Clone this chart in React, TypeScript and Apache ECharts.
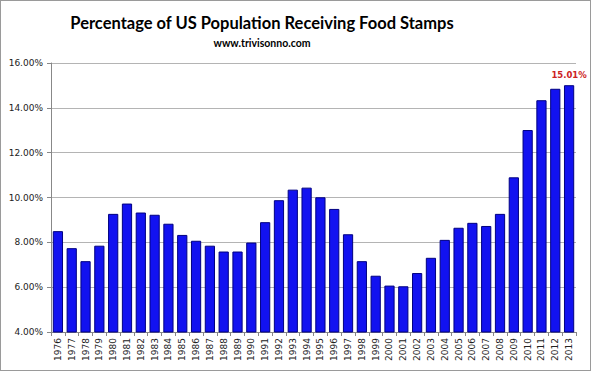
import React, { useEffect, useRef } from "react";
import * as echarts from "echarts";

const years = [
  "1976","1977","1978","1979","1980","1981","1982","1983","1984","1985",
  "1986","1987","1988","1989","1990","1991","1992","1993","1994","1995",
  "1996","1997","1998","1999","2000","2001","2002","2003","2004","2005",
  "2006","2007","2008","2009","2010","2011","2012","2013",
];
const pctValues = [
  8.50, 7.74, 7.16, 7.85, 9.27, 9.73, 9.33, 9.23, 8.83, 8.33,
  8.07, 7.85, 7.59, 7.59, 7.99, 8.90, 9.88, 10.35, 10.44, 10.01,
  9.49, 8.36, 7.16, 6.51, 6.07, 6.04, 6.63, 7.31, 8.11, 8.65,
  8.87, 8.73, 9.27, 10.90, 13.01, 14.34, 14.85, 15.01,
];
const yMin = 4;
const yMax = 16;
const yStep = 2;
const titleText = "Percentage of US Population Receiving Food Stamps";
const subtitleText = "www.trivisonno.com";

export default function App() {
  const ref = useRef<HTMLDivElement>(null);
  useEffect(() => {
    document.body.style.margin = "0";
    const chart = echarts.init(ref.current!, null, { renderer: "svg" });
    const last = pctValues.length - 1;
    chart.setOption({
      animation: false,
      backgroundColor: "#ffffff",
      title: [
        {
          text: titleText,
          left: 261,
          top: 13,
          padding: 0,
          textAlign: "center",
          textStyle: { fontFamily: "Lato", fontWeight: "bold", fontSize: 16.5, color: "#000" },
        },
        {
          text: subtitleText,
          left: 261,
          top: 36,
          padding: 0,
          textAlign: "center",
          textStyle: { fontFamily: "Lato", fontWeight: "bold", fontSize: 10.5, color: "#000" },
        },
      ],
      grid: { left: 50, right: 14, top: 62, bottom: 38, containLabel: false },
      xAxis: {
        type: "category",
        data: years,
        axisLine: { lineStyle: { color: "#888", width: 1 } },
        axisTick: { show: true, alignWithLabel: false, length: 4, lineStyle: { color: "#888" } },
        axisLabel: {
          rotate: 90,
          interval: 0,
          margin: 6,
          fontFamily: "DejaVu Sans",
          fontSize: 9,
          color: "#222",
        },
      },
      yAxis: {
        type: "value",
        min: yMin,
        max: yMax,
        interval: yStep,
        axisLine: { show: true, lineStyle: { color: "#888" } },
        axisTick: { show: true, length: 4, lineStyle: { color: "#888" } },
        splitLine: { lineStyle: { color: "#b4b4b4", width: 1 } },
        axisLabel: {
          formatter: (v: number) => v.toFixed(2) + "%",
          fontFamily: "DejaVu Sans",
          fontSize: 9,
          color: "#222",
          margin: 8,
        },
      },
      series: [
        {
          type: "bar",
          data: pctValues.map((v, i) =>
            i === last
              ? {
                  value: v,
                  label: {
                    show: true,
                    position: "top",
                    distance: 6,
                    formatter: (p: any) => p.value.toFixed(2) + "%",
                    color: "#cc2222",
                    fontWeight: "bold",
                    fontFamily: "DejaVu Sans",
                    fontSize: 8.5,
                  },
                }
              : v
          ),
          barCategoryGap: "26%",
          itemStyle: { color: "#1212f0", borderColor: "#000080", borderWidth: 1 },
        },
      ],
    });
    return () => chart.dispose();
  }, []);
  return (
    <div
      ref={ref}
      style={{ width: 591, height: 371, boxSizing: "border-box", border: "1px solid #9a9a9a" }}
    />
  );
}
